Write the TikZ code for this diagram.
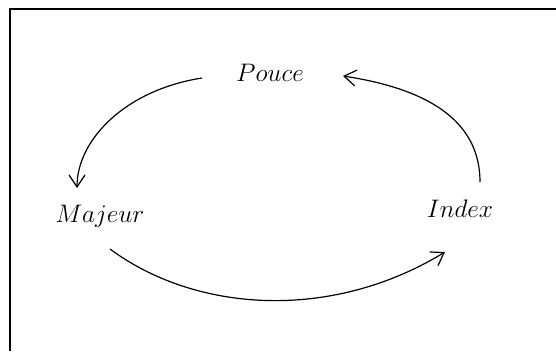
\RequirePackage{fix-cm}
\documentclass[tikz,border=0pt]{standalone}
\usetikzlibrary{arrows.meta}
\begin{document}
\begin{tikzpicture}[x=0.75pt,y=-0.75pt,
  lbl/.style={inner sep=0pt,anchor=base,font=\fontsize{19}{22}\selectfont},
  conn/.style={line width=0.9pt,-{Straight Barb[length=9pt,width=12pt,line width=0.9pt]}},
  frame/.style={line width=1pt}]
\useasboundingbox (0,0) rectangle (556,351);
\draw[frame] (10,351) -- (10,9) -- (556,9);
\node[lbl] (pouce) at (270,81) {$Pouce$};
\node[lbl] (majeur) at (100,222) {$Majeur$};
\node[lbl] (index) at (460,217) {$Index$};
\coordinate (p1) at (202,78);
\coordinate (m1) at (77,188);
\coordinate (i1) at (480,182);
\coordinate (p2) at (343,76);
\coordinate (m2) at (110,249);
\coordinate (i2) at (445,252);
\draw[conn] (p1) .. controls (125,90) and (77,140) .. (m1);
\draw[conn] (i1) .. controls (480,125) and (435,90) .. (p2);
\draw[conn] (m2) .. controls (195,312) and (330,322) .. (i2);
\end{tikzpicture}
\end{document}
